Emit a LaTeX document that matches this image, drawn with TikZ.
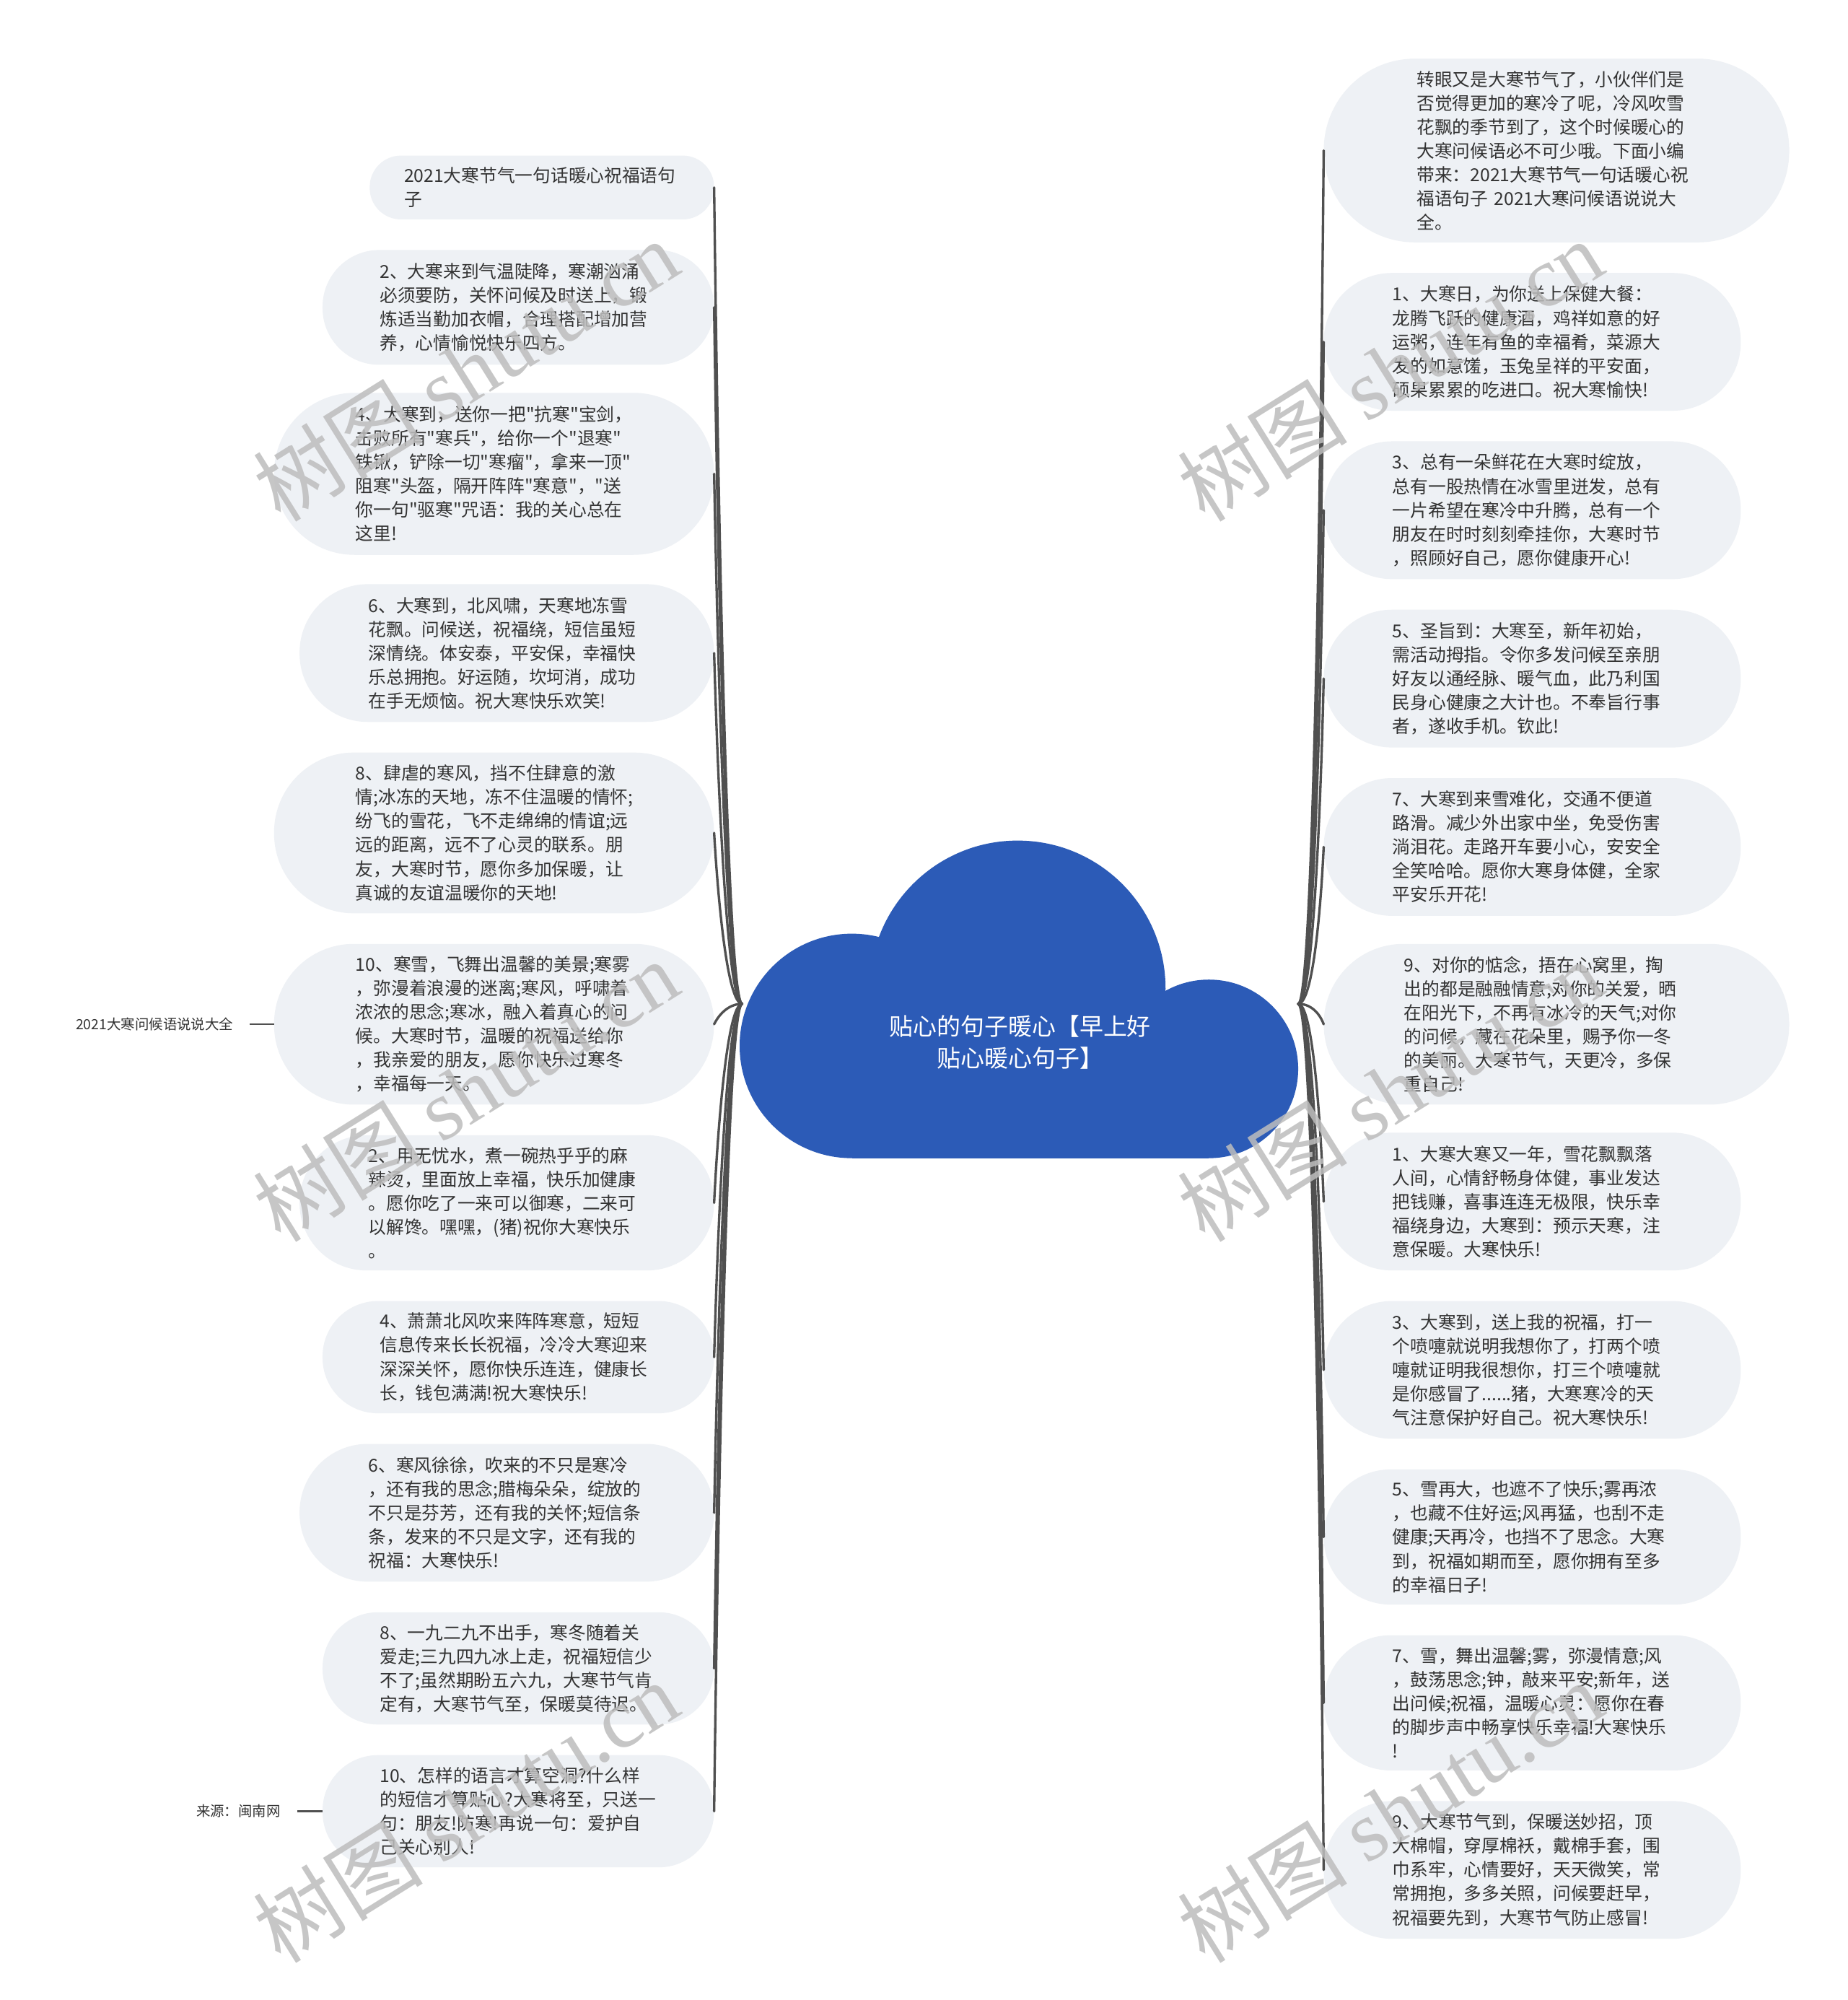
\documentclass[tikz,border=0pt]{standalone}
\usepackage{fontspec}
\setmainfont{Noto Sans CJK SC}[Ligatures=TeXOff]
\newfontfamily\wmserif{Liberation Serif}
\usetikzlibrary{calc}
\definecolor{pillfill}{HTML}{EEF1F5}
\definecolor{txt}{HTML}{333333}
\definecolor{conncol}{HTML}{505050}
\definecolor{cloudblue}{HTML}{2C5BB7}
\definecolor{wmgray}{HTML}{BDBDBD}
\newcommand\bodyfont{\fontsize{39.8pt}{53.2pt}\selectfont}
\newcommand\titlefont{\fontsize{53pt}{71pt}\selectfont}
\newcommand\labfont{\fontsize{31.3pt}{40pt}\selectfont}
\newcommand\wmfont{\fontsize{190pt}{200pt}\selectfont}
\tikzset{
  pill/.style={fill=pillfill, draw=none, align=left, inner ysep=0pt, font=\bodyfont, text=txt},
  lpill/.style n args={4}{pill, anchor=east, minimum height=#1mm, rounded corners=#2mm, inner xsep=#3mm, text width=#4mm},
  rpill/.style n args={4}{pill, anchor=west, minimum height=#1mm, rounded corners=#2mm, inner xsep=#3mm, text width=#4mm},
  conn/.style={draw=conncol, line width=1.9mm, line cap=round},
  sidelab/.style={font=\labfont, text=txt, anchor=east, inner ysep=0pt, inner xsep=13mm},
  wmark/.style={text=wmgray, text opacity=0.85, rotate=32, font=\wmfont, inner sep=0pt},
}
\begin{document}
\begin{tikzpicture}[x=1mm,y=-1mm]
\fill[white] (0,0) rectangle (1449,1568);
\useasboundingbox (0,0) rectangle (1449,1568);

% ---- left nodes
\node[lpill={50}{24.5}{27}{216}] (L1) at (560,147) {2021大寒节气一句话暖心祝福语句\\子};
\node[lpill={90}{44.5}{45}{217}] (L2) at (560,241) {2、大寒来到气温陡降，寒潮汹涌\\必须要防，关怀问候及时送上，锻\\炼适当勤加衣帽，合理搭配增加营\\养，心情愉悦快乐四方。};
\node[lpill={127}{63}{64}{217}] (L3) at (560,371.5) {4、大寒到，送你一把"抗寒"宝剑，\\击败所有"寒兵"，给你一个"退寒"\\铁锹，铲除一切"寒瘤"，拿来一顶"\\阻寒"头盔，隔开阵阵"寒意"，"送\\你一句"驱寒"咒语：我的关心总在\\这里!};
\node[lpill={108}{53.5}{54}{217}] (L4) at (560,512) {6、大寒到，北风啸，天寒地冻雪\\花飘。问候送，祝福绕，短信虽短\\深情绕。体安泰，平安保，幸福快\\乐总拥抱。好运随，坎坷消，成功\\在手无烦恼。祝大寒快乐欢笑!};
\node[lpill={126}{62.5}{64}{217}] (L5) at (560,653) {8、肆虐的寒风，挡不住肆意的激\\情;冰冻的天地，冻不住温暖的情怀;\\纷飞的雪花，飞不走绵绵的情谊;远\\远的距离，远不了心灵的联系。朋\\友，大寒时节，愿你多加保暖，让\\真诚的友谊温暖你的天地!};
\node[lpill={126}{62.5}{64}{217}] (L6) at (560,803) {10、寒雪，飞舞出温馨的美景;寒雾\\，弥漫着浪漫的迷离;寒风，呼啸着\\浓浓的思念;寒冰，融入着真心的问\\候。大寒时节，温暖的祝福送给你\\，我亲爱的朋友，愿你快乐过寒冬\\，幸福每一天。};
\node[lpill={106}{52.5}{54}{217}] (L7) at (560,943) {2、用无忧水，煮一碗热乎乎的麻\\辣烫，里面放上幸福，快乐加健康\\。愿你吃了一来可以御寒，二来可\\以解馋。嘿嘿，(猪)祝你大寒快乐\\。};
\node[lpill={88}{43.5}{45}{217}] (L8) at (560,1064) {4、萧萧北风吹来阵阵寒意，短短\\信息传来长长祝福，冷冷大寒迎来\\深深关怀，愿你快乐连连，健康长\\长，钱包满满!祝大寒快乐!};
\node[lpill={108}{53.5}{54}{217}] (L9) at (560,1186) {6、寒风徐徐，吹来的不只是寒冷\\，还有我的思念;腊梅朵朵，绽放的\\不只是芬芳，还有我的关怀;短信条\\条，发来的不只是文字，还有我的\\祝福：大寒快乐!};
\node[lpill={88}{43.5}{45}{217}] (L10) at (560,1308) {8、一九二九不出手，寒冬随着关\\爱走;三九四九冰上走，祝福短信少\\不了;虽然期盼五六九，大寒节气肯\\定有，大寒节气至，保暖莫待迟。};
\node[lpill={88}{43.5}{45}{217}] (L11) at (560,1420) {10、怎样的语言才算空洞?什么样\\的短信才算贴心?大寒将至，只送一\\句：朋友!防寒!再说一句：爱护自\\己关心别人!};

% ---- right nodes
\node[rpill={144}{71.5}{73}{219}] (R1) at (1038,118) {转眼又是大寒节气了，小伙伴们是\\否觉得更加的寒冷了呢，冷风吹雪\\花飘的季节到了，这个时候暖心的\\大寒问候语必不可少哦。下面小编\\带来：2021大寒节气一句话暖心祝\\福语句子 2021大寒问候语说说大\\全。};
\node[rpill={108}{53.5}{54}{219}] (R2) at (1038,268) {1、大寒日，为你送上保健大餐：\\龙腾飞跃的健康酒，鸡祥如意的好\\运粥，连年有鱼的幸福肴，菜源大\\发的如意馐，玉兔呈祥的平安面，\\硕果累累的吃进口。祝大寒愉快!};
\node[rpill={108}{53.5}{54}{219}] (R3) at (1038,400) {3、总有一朵鲜花在大寒时绽放，\\总有一股热情在冰雪里迸发，总有\\一片希望在寒冷中升腾，总有一个\\朋友在时时刻刻牵挂你，大寒时节\\，照顾好自己，愿你健康开心!};
\node[rpill={108}{53.5}{54}{219}] (R4) at (1038,532) {5、圣旨到：大寒至，新年初始，\\需活动拇指。令你多发问候至亲朋\\好友以通经脉、暖气血，此乃利国\\民身心健康之大计也。不奉旨行事\\者，遂收手机。钦此!};
\node[rpill={108}{53.5}{54}{219}] (R5) at (1038,664) {7、大寒到来雪难化，交通不便道\\路滑。减少外出家中坐，免受伤害\\淌泪花。走路开车要小心，安安全\\全笑哈哈。愿你大寒身体健，全家\\平安乐开花!};
\node[rpill={126}{62.5}{63}{239}] (R6) at (1038,803) {9、对你的惦念，捂在心窝里，掏\\出的都是融融情意;对你的关爱，晒\\在阳光下，不再有冰冷的天气;对你\\的问候，藏在花朵里，赐予你一冬\\的美丽。大寒节气，天更冷，多保\\重自己!};
\node[rpill={108}{53.5}{54}{219}] (R7) at (1038,942) {1、大寒大寒又一年，雪花飘飘落\\人间，心情舒畅身体健，事业发达\\把钱赚，喜事连连无极限，快乐幸\\福绕身边，大寒到：预示天寒，注\\意保暖。大寒快乐!};
\node[rpill={108}{53.5}{54}{219}] (R8) at (1038,1074) {3、大寒到，送上我的祝福，打一\\个喷嚏就说明我想你了，打两个喷\\嚏就证明我很想你，打三个喷嚏就\\是你感冒了......猪，大寒寒冷的天\\气注意保护好自己。祝大寒快乐!};
\node[rpill={106}{52.5}{54}{219}] (R9) at (1038,1205) {5、雪再大，也遮不了快乐;雾再浓\\，也藏不住好运;风再猛，也刮不走\\健康;天再冷，也挡不了思念。大寒\\到，祝福如期而至，愿你拥有至多\\的幸福日子!};
\node[rpill={106}{52.5}{54}{219}] (R10) at (1038,1335) {7、雪，舞出温馨;雾，弥漫情意;风\\，鼓荡思念;钟，敲来平安;新年，送\\出问候;祝福，温暖心灵：愿你在春\\的脚步声中畅享快乐幸福!大寒快乐\\!};
\node[rpill={108}{53.5}{54}{219}] (R11) at (1038,1466) {9、大寒节气到，保暖送妙招，顶\\大棉帽，穿厚棉袄，戴棉手套，围\\巾系牢，心情要好，天天微笑，常\\常拥抱，多多关照，问候要赶早，\\祝福要先到，大寒节气防止感冒!};

% ---- connectors
\coordinate (rootL) at (582,787);
\coordinate (rootR) at (1018,787);
\foreach \n in {L1,L2,L3,L4,L5,L6,L7,L8,L9,L10,L11}{
  \draw[conn] (rootL) .. controls (570,787) and ($(\n.east)!0.35!(rootL)+(-5,0)$) .. (\n.east);
}
\foreach \n in {R1,R2,R3,R4,R5,R6,R7,R8,R9,R10,R11}{
  \draw[conn] (rootR) .. controls (1030,787) and ($(\n.west)!0.35!(rootR)+(5,0)$) .. (\n.west);
}

% ---- cloud (central topic)
\fill[cloudblue] (668,820) ellipse[x radius=88, y radius=88];
\fill[cloudblue] (798,775) ellipse[x radius=116, y radius=116];
\fill[cloudblue] (948,838) ellipse[x radius=70, y radius=70];
\fill[cloudblue] (668,780) rectangle (948,908);
\node[font=\titlefont, text=white, align=center, inner sep=0pt] (root) at (800,817) {贴心的句子暖心【早上好\\贴心暖心句子】};

% ---- side labels
\node[sidelab] (lab1) at (196,803) {2021大寒问候语说说大全};
\node[sidelab] (lab2) at (233,1420) {来源：闽南网};
\draw[conn, line width=1.2mm, line cap=butt] (lab1.east) -- (L6.west);
\draw[conn, line width=1.2mm, line cap=butt] (lab2.east) -- (L11.west);

% ---- watermarks
\node[wmark] (wm1) at (365,290) {树图 {\wmserif shutu.cn}};
\node[wmark] (wm2) at (1090,290) {树图 {\wmserif shutu.cn}};
\node[wmark] (wm3) at (365,855) {树图 {\wmserif shutu.cn}};
\node[wmark] (wm4) at (1090,855) {树图 {\wmserif shutu.cn}};
\node[wmark] (wm5) at (365,1420) {树图 {\wmserif shutu.cn}};
\node[wmark] (wm6) at (1090,1420) {树图 {\wmserif shutu.cn}};
\end{tikzpicture}
\end{document}
